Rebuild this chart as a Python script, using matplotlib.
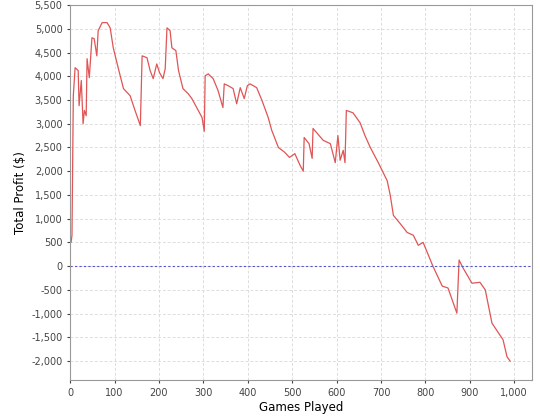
import matplotlib.pyplot as plt
from matplotlib.ticker import FuncFormatter, MultipleLocator

games = [0, 2, 4, 7, 11, 18, 20, 25, 29, 32, 36, 38, 43, 49, 54, 60, 63, 72, 83,
         90, 97, 108, 120, 135, 146, 158, 162, 173, 180, 187, 195, 201, 209, 214,
         218, 225, 229, 238, 244, 254, 266, 274, 285, 297, 302, 304, 311, 322, 333,
         344, 347, 356, 367, 375, 383, 392, 399, 405, 420, 432, 446, 454, 469, 483,
         494, 506, 518, 525, 527, 538, 545, 547, 570, 586, 597, 603, 608, 615, 619,
         622, 637, 653, 664, 676, 694, 714, 721, 728, 743, 759, 773, 784, 795, 817,
         838, 851, 871, 876, 885, 905, 923, 935, 950, 975, 984, 991]
profit = [600, 500, 650, 3590, 4180, 4120, 3380, 3910, 3000, 3280, 3170, 4370,
          3970, 4810, 4790, 4430, 4960, 5130, 5130, 5020, 4600, 4180, 3740, 3590,
          3280, 2960, 4430, 4390, 4120, 3950, 4260, 4080, 3950, 4160, 5020, 4960,
          4600, 4540, 4120, 3740, 3630, 3530, 3340, 3130, 2840, 4010, 4050, 3950,
          3700, 3340, 3840, 3800, 3740, 3420, 3760, 3530, 3800, 3840, 3760, 3490,
          3130, 2860, 2500, 2400, 2290, 2370, 2120, 2000, 2710, 2580, 2270, 2900,
          2650, 2580, 2180, 2750, 2230, 2440, 2180, 3280, 3230, 3020, 2750, 2500,
          2180, 1800, 1490, 1070, 900, 710, 650, 440, 500, 0, -420, -460, -990,
          130, -40, -360, -340, -500, -1200, -1550, -1910, -2000]

fig = plt.figure(figsize=(5.4, 4.2), dpi=100)
ax = fig.add_axes([0.13, 0.095, 0.855, 0.893])

ax.plot(games, profit, '-', lw=0.9, color='#e05555')
ax.axhline(0, color='#5555cc', lw=0.8, ls=(0, (2, 2)))

ax.set_xlim(0, 1040)
ax.set_ylim(-2400, 5500)
ax.xaxis.set_major_locator(MultipleLocator(100))
ax.yaxis.set_major_locator(MultipleLocator(500))
fmt = FuncFormatter(lambda v, p: f'{int(v):,}')
ax.xaxis.set_major_formatter(fmt)
ax.yaxis.set_major_formatter(fmt)
ax.tick_params(labelsize=7, colors='#444444', length=2)
ax.grid(color='#dddddd', ls=(0, (3, 2)), lw=0.7)
for s in ax.spines.values():
    s.set_color('#999999')
ax.set_xlabel('Games Played', fontsize=8.5, labelpad=2)
ax.set_ylabel('Total Profit ($)', fontsize=8.5, labelpad=3)

fig.savefig('out.png')
